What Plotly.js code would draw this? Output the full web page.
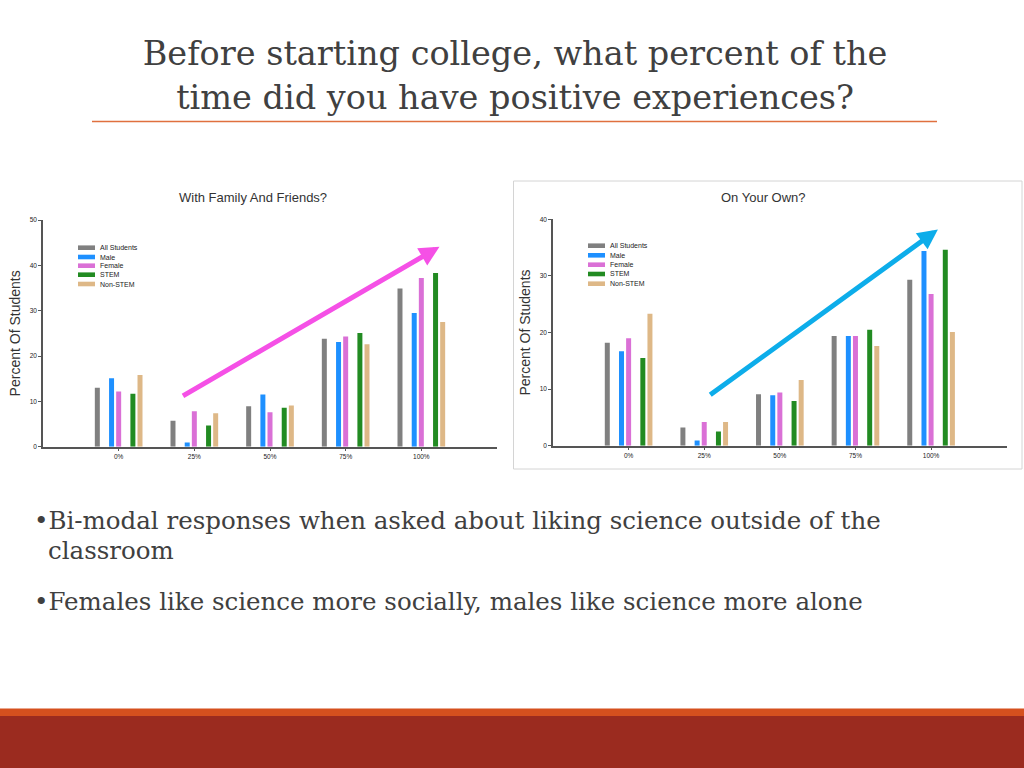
<!DOCTYPE html>
<html><head><meta charset="utf-8">
<script src="https://cdn.plot.ly/plotly-3.0.1.min.js"></script>
<style>html,body{margin:0;padding:0;background:#fff;}#chart{width:1024px;height:768px;}</style>
</head><body><div id="chart"></div>
<script>
// ---------- data ----------
const categories = ["0%", "25%", "50%", "75%", "100%"];
const seriesNames = ["All Students", "Male", "Female", "STEM", "Non-STEM"];

const familyAll     = [13.0, 5.7,  8.9, 23.8, 34.9];
const familyMale    = [15.1, 0.9, 11.5, 23.1, 29.5];
const familyFemale  = [12.2, 7.8,  7.6, 24.3, 37.2];
const familyStem    = [11.7, 4.7,  8.6, 25.1, 38.3];
const familyNonStem = [15.8, 7.4,  9.1, 22.6, 27.5];

const ownAll     = [18.2, 3.2,  9.1, 19.4, 29.3];
const ownMale    = [16.7, 0.9,  8.9, 19.4, 34.4];
const ownFemale  = [19.0, 4.2,  9.4, 19.4, 26.8];
const ownStem    = [15.5, 2.5,  7.9, 20.5, 34.6];
const ownNonStem = [23.3, 4.2, 11.6, 17.6, 20.1];

const slideTitle = "Before starting college, what percent of the<br>time did you have positive experiences?";
const leftTitle = "With Family And Friends?";
const rightTitle = "On Your Own?";
const yTitle = "Percent Of Students";
const bullet1a = "\u2022Bi-modal responses when asked about liking science outside of the";
const bullet1b = "classroom";
const bullet2 = "\u2022Females like science more socially, males like science more alone";

// ---------- style ----------
const W = 1024, H = 768;
const px = v => v / W;
const py = v => 1 - v / H;
const colors = ["#808080", "#1E90FF", "#DA70D6", "#228B22", "#DEB887"];
const slots = [-3, -1, 0, 2, 3];
const slotStep = 0.094, barW = 0.066;
const sans = "Liberation Sans, Arial, sans-serif";
const serif = "DejaVu Serif, Georgia, serif";
const tickFont = {family: sans, size: 6.5, color: "#222"};

const familySeries = [familyAll, familyMale, familyFemale, familyStem, familyNonStem];
const ownSeries = [ownAll, ownMale, ownFemale, ownStem, ownNonStem];

const traces = [];
function addChart(series, xa, ya) {
  series.forEach((vals, i) => {
    traces.push({
      type: "bar", x: categories, y: vals, name: seriesNames[i],
      xaxis: xa, yaxis: ya, showlegend: false,
      width: barW, offset: slots[i] * slotStep - barW / 2,
      marker: {color: colors[i], line: {width: 0}},
      hovertemplate: seriesNames[i] + " %{x}: %{y}<extra></extra>"
    });
  });
}
addChart(familySeries, "x", "y");
addChart(ownSeries, "x2", "y2");

function xAxis(domain, anchor) {
  return {domain, anchor, type: "category", range: [-1, 5], showline: true, linecolor: "#555",
    linewidth: 1.5, ticks: "outside", ticklen: 3, tickcolor: "#555", tickfont: tickFont,
    showgrid: false, zeroline: false, fixedrange: true};
}
function yAxis(domain, anchor, range) {
  return {domain, anchor, range, dtick: 10, showline: true, linecolor: "#555", linewidth: 1.5,
    ticks: "outside", ticklen: 3, tickcolor: "#555", tickfont: tickFont, showgrid: false,
    zeroline: false, fixedrange: true, automargin: false,
    title: {text: yTitle, font: {family: sans, size: 14, color: "#333"}, standoff: 6}};
}

// legend built from series names
const shapes = [], annotations = [];
const legendRows = [[247.7, 257, 265.7, 274.7, 284], [245.7, 255.3, 264.7, 274, 283.7]];
const legendX = [78, 588];
legendRows.forEach((rows, c) => {
  rows.forEach((yy, i) => {
    shapes.push({type: "rect", xref: "paper", yref: "paper", x0: px(legendX[c]), x1: px(legendX[c] + 17),
      y0: py(yy + 2.3), y1: py(yy - 2.3), fillcolor: colors[i], line: {width: 0}});
    annotations.push({xref: "paper", yref: "paper", x: px(legendX[c] + 20), y: py(yy), xanchor: "left",
      yanchor: "middle", text: seriesNames[i], showarrow: false, font: {family: sans, size: 7, color: "#222"}});
  });
});

// chart titles
annotations.push({xref: "paper", yref: "paper", x: px(253), y: py(197), xanchor: "center", yanchor: "middle",
  text: leftTitle, showarrow: false, font: {family: sans, size: 13, color: "#333"}});
annotations.push({xref: "paper", yref: "paper", x: px(763), y: py(197), xanchor: "center", yanchor: "middle",
  text: rightTitle, showarrow: false, font: {family: sans, size: 13, color: "#333"}});

// trend arrows
const familyArrow = {from: [0.83, 11.0], to: [4.24, 44.1]};
const ownArrow = {from: [1.06, 8.8], to: [4.09, 38.2]};
annotations.push({xref: "x", yref: "y", axref: "x", ayref: "y", x: familyArrow.to[0], y: familyArrow.to[1],
  ax: familyArrow.from[0], ay: familyArrow.from[1], text: "", showarrow: true, arrowhead: 2, arrowsize: 0.8,
  arrowwidth: 5, arrowcolor: "#F550E6"});
annotations.push({xref: "x2", yref: "y2", axref: "x2", ayref: "y2", x: ownArrow.to[0], y: ownArrow.to[1],
  ax: ownArrow.from[0], ay: ownArrow.from[1], text: "", showarrow: true, arrowhead: 2, arrowsize: 0.8,
  arrowwidth: 5, arrowcolor: "#0DADEA"});

// bullets
const bulletFont = {family: serif, size: 24.5, color: "#404040"};
annotations.push({xref: "paper", yref: "paper", x: px(32), y: py(520), xanchor: "left", yanchor: "middle",
  text: bullet1a, showarrow: false, font: bulletFont});
annotations.push({xref: "paper", yref: "paper", x: px(46), y: py(550), xanchor: "left", yanchor: "middle",
  text: bullet1b, showarrow: false, font: bulletFont});
annotations.push({xref: "paper", yref: "paper", x: px(32), y: py(601), xanchor: "left", yanchor: "middle",
  text: bullet2, showarrow: false, font: bulletFont});

// decorative slide shapes
shapes.push({type: "line", xref: "paper", yref: "paper", x0: px(92), x1: px(937), y0: py(121.5), y1: py(121.5),
  line: {color: "#E0703F", width: 1.5}});
shapes.push({type: "rect", xref: "paper", yref: "paper", x0: px(513.5), x1: px(1022), y0: py(469), y1: py(181),
  line: {color: "#D4D4D4", width: 1}, fillcolor: "rgba(0,0,0,0)"});
shapes.push({type: "rect", xref: "paper", yref: "paper", x0: 0, x1: 1, y0: py(716), y1: py(708.5),
  line: {width: 0}, fillcolor: "#D5501E"});
shapes.push({type: "rect", xref: "paper", yref: "paper", x0: 0, x1: 1, y0: 0, y1: py(716),
  line: {width: 0}, fillcolor: "#9B2B1F"});

const layout = {
  width: W, height: H, margin: {l: 0, r: 0, t: 0, b: 0},
  paper_bgcolor: "#fff", plot_bgcolor: "rgba(0,0,0,0)",
  barmode: "overlay", showlegend: false,
  title: {text: slideTitle, x: 0.503, xanchor: "center", y: py(65), yanchor: "middle", yref: "container",
    font: {family: serif, size: 33.5, color: "#404040"}},
  xaxis: xAxis([px(43), px(497)], "y"),
  yaxis: yAxis([py(446.7), py(220)], "x", [0, 50]),
  xaxis2: xAxis([px(553), px(1006.7)], "y2"),
  yaxis2: yAxis([py(445.7), py(219.3)], "x2", [0, 40]),
  shapes, annotations
};

Plotly.newPlot("chart", traces, layout, {displayModeBar: false, responsive: false});
</script>
</body></html>
